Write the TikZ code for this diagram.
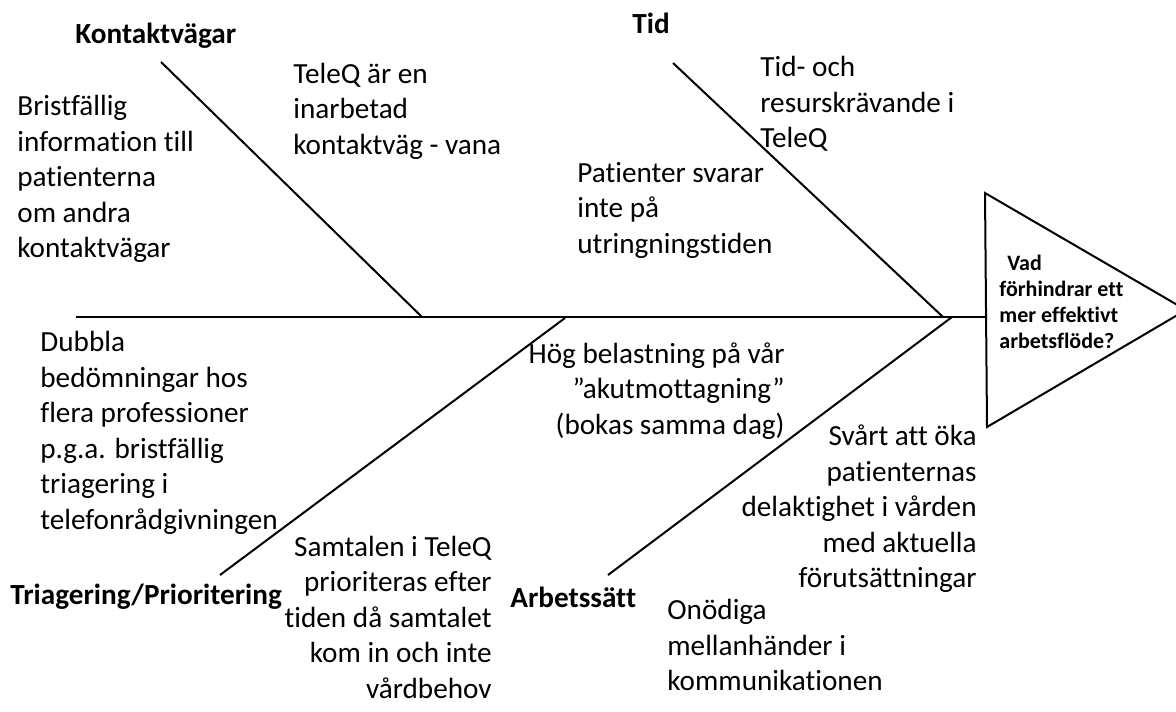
\documentclass[tikz,border=0pt]{standalone}
\usepackage{fontspec}
\setmainfont{Carlito}[Ligatures=NoCommon]
\usetikzlibrary{positioning}

\begin{document}
\begin{tikzpicture}[
    x=0.5pt,
    y=-0.5pt,
    bone/.style={black, line width=1pt, line join=miter},
    cat/.style={font=\fontsize{14.6}{17.75}\selectfont\bfseries, inner sep=0pt},
    lab/.style={font=\fontsize{14.6}{17.75}\selectfont, inner sep=0pt, align=left},
    labr/.style={lab, align=right},
    goal/.style={font=\fontsize{11}{13}\selectfont\bfseries, inner sep=0pt, align=left}
  ]
  \useasboundingbox (0,0) rectangle (1176,711);
  % spine and head
  \coordinate (tail) at (76,317);
  \coordinate (head) at (986,317);
  \coordinate (htop) at (985,193);
  \coordinate (htip) at (1186,310);
  \coordinate (hbot) at (987,427);
  \draw[bone] (tail) -- (head);
  \draw[bone] (htop) -- (htip) -- (hbot) -- cycle;
  \node[goal, anchor=west] (q) at (999,302) {\hspace*{4pt}Vad\\förhindrar ett\\mer effektivt\\arbetsflöde?};
  % bones
  \coordinate (kvtop) at (161,62);
  \coordinate (kvfoot) at (422,317);
  \coordinate (tidtop) at (673,63);
  \coordinate (tidfoot) at (943,317);
  \coordinate (trtop) at (565,318);
  \coordinate (trfoot) at (220,575);
  \coordinate (astop) at (952,317);
  \coordinate (asfoot) at (608,575);
  \draw[bone] (kvtop) -- (kvfoot);
  \draw[bone] (tidtop) -- (tidfoot);
  \draw[bone] (trtop) -- (trfoot);
  \draw[bone] (astop) -- (asfoot);
  % categories
  \node[cat, anchor=base west] (kv) at (75,44) {Kontaktvägar};
  \node[cat, anchor=base west] (tid) at (632,34) {Tid};
  \node[cat, anchor=west] (tr) at (10,597) {Triagering/Prioritering};
  \node[cat, anchor=west] (as) at (510,597) {Arbetssätt};
  % causes
  \node[lab, anchor=west] (kv1) at (17,179) {Bristfällig\\information till\\patienterna\\om andra\\kontaktvägar};
  \node[lab, anchor=west] (kv2) at (293,111) {TeleQ är en\\inarbetad\\kontaktväg - vana};
  \node[lab, anchor=west] (tid1) at (760,104) {Tid- och\\resurskrävande i\\TeleQ};
  \node[lab, anchor=west] (tid2) at (577,210) {Patienter svarar\\inte på\\utringningstiden};
  \node[lab, anchor=west] (tr1) at (40,433) {Dubbla\\bedömningar hos\\flera professioner\\p.g.a. bristfällig\\triagering i\\telefonrådgivningen};
  \node[labr, anchor=east] (tr2) at (492,617) {Samtalen i TeleQ\\prioriteras efter\\tiden då samtalet\\kom in och inte\\vårdbehov};
  \node[labr, anchor=east] (as1) at (785,391) {Hög belastning på vår\\”akutmottagning”\\(bokas samma dag)};
  \node[labr, anchor=east] (as2) at (977,509) {Svårt att öka\\patienternas\\delaktighet i vården\\med aktuella\\förutsättningar};
  \node[lab, anchor=west] (as3) at (667,645) {Onödiga\\mellanhänder i\\kommunikationen};
\end{tikzpicture}
\end{document}
